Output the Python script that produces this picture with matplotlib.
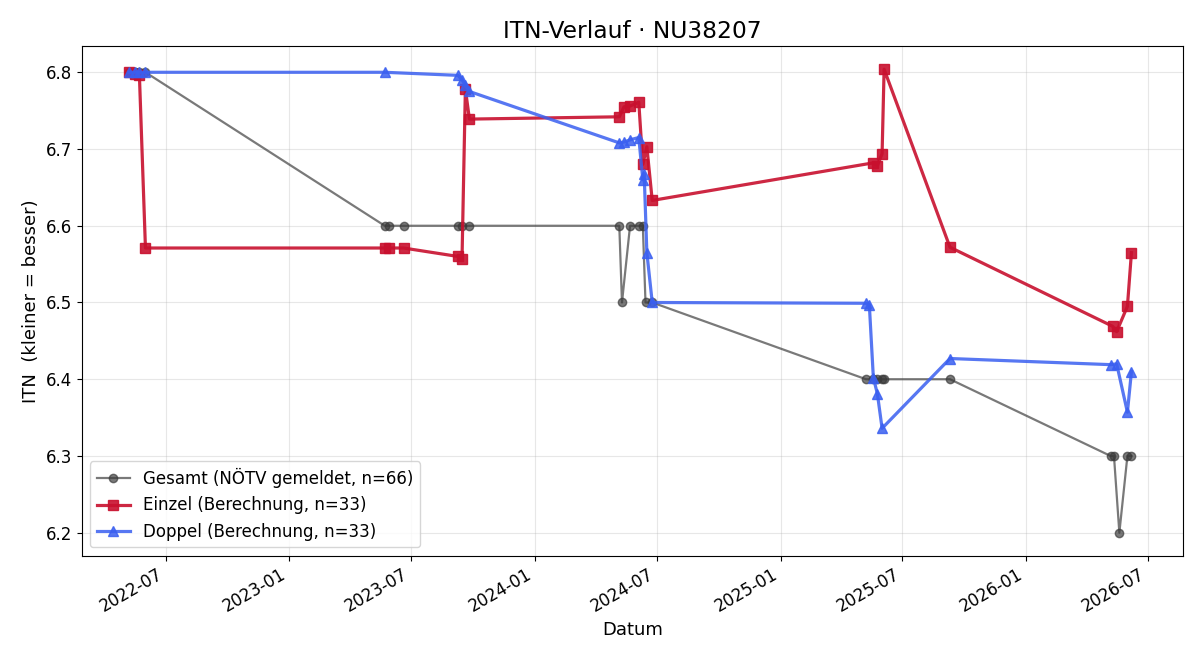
import matplotlib
matplotlib.use("Agg")
import matplotlib.pyplot as plt
import matplotlib.dates as mdates
import pandas as pd

# Gesamt (NÖTV gemeldet)
ges_dates = ["2022-05-08", "2022-05-16", "2022-05-23", "2022-06-01",
             "2023-05-23", "2023-05-30", "2023-06-20", "2023-09-09", "2023-09-15", "2023-09-26",
             "2024-05-06", "2024-05-10", "2024-05-22", "2024-06-04", "2024-06-10", "2024-06-14", "2024-06-24",
             "2025-05-08", "2025-05-19", "2025-05-25", "2025-06-01", "2025-06-04",
             "2025-09-10",
             "2026-05-07", "2026-05-12", "2026-05-20", "2026-06-01", "2026-06-07"]
ges_itn = [6.8, 6.8, 6.8, 6.8,
           6.6, 6.6, 6.6, 6.6, 6.6, 6.6,
           6.6, 6.5, 6.6, 6.6, 6.6, 6.5, 6.5,
           6.4, 6.4, 6.4, 6.4, 6.4,
           6.4,
           6.3, 6.3, 6.2, 6.3, 6.3]

# Einzel (Berechnung)
ein_dates = ["2022-05-08", "2022-05-16", "2022-05-23", "2022-06-01",
             "2023-05-23", "2023-05-30", "2023-06-20", "2023-09-09", "2023-09-15", "2023-09-20", "2023-09-26",
             "2024-05-06", "2024-05-13", "2024-05-22", "2024-06-04", "2024-06-10", "2024-06-16", "2024-06-24",
             "2025-05-19", "2025-05-25", "2025-06-01", "2025-06-04",
             "2025-09-10",
             "2026-05-10", "2026-05-16", "2026-06-01", "2026-06-07"]
ein_itn = [6.800, 6.798, 6.796, 6.571,
           6.571, 6.571, 6.571, 6.560, 6.557, 6.778, 6.739,
           6.742, 6.755, 6.756, 6.761, 6.680, 6.703, 6.633,
           6.682, 6.678, 6.694, 6.804,
           6.572,
           6.469, 6.462, 6.495, 6.565]

# Doppel (Berechnung)
dop_dates = ["2022-05-08", "2022-05-16", "2022-05-23", "2022-06-01",
             "2023-05-23", "2023-09-09", "2023-09-15", "2023-09-20", "2023-09-26",
             "2024-05-06", "2024-05-13", "2024-05-22", "2024-06-04", "2024-06-10", "2024-06-12", "2024-06-16", "2024-06-24",
             "2025-05-08", "2025-05-13", "2025-05-19", "2025-05-25", "2025-06-01",
             "2025-09-10",
             "2026-05-07", "2026-05-16", "2026-06-01", "2026-06-07"]
dop_itn = [6.800, 6.800, 6.800, 6.800,
           6.800, 6.796, 6.790, 6.783, 6.775,
           6.708, 6.709, 6.712, 6.715, 6.660, 6.668, 6.565, 6.500,
           6.499, 6.497, 6.402, 6.381, 6.336,
           6.427,
           6.419, 6.420, 6.357, 6.410]

fig, ax = plt.subplots(figsize=(12, 6.6), dpi=100)

ax.plot(pd.to_datetime(ges_dates), ges_itn, marker='o', markersize=6, linewidth=1.6,
        color='#3a3a3a', alpha=0.68, label='Gesamt (NÖTV gemeldet, n=66)')
ax.plot(pd.to_datetime(ein_dates), ein_itn, marker='s', markersize=7, linewidth=2.3,
        color='#c8102e', alpha=0.9, label='Einzel (Berechnung, n=33)')
ax.plot(pd.to_datetime(dop_dates), dop_itn, marker='^', markersize=7, linewidth=2.3,
        color='#3a5ff0', alpha=0.85, label='Doppel (Berechnung, n=33)')

ax.set_title('ITN-Verlauf · NU38207', fontsize=16.8)
ax.set_xlabel('Datum', fontsize=13)
ax.set_ylabel('ITN  (kleiner = besser)', fontsize=13)
ax.set_xlim(pd.Timestamp("2022-02-26"), pd.Timestamp("2026-08-23"))
ax.set_ylim(6.17, 6.834)
ax.xaxis.set_major_locator(mdates.MonthLocator(bymonth=[1, 7]))
ax.xaxis.set_major_formatter(mdates.DateFormatter('%Y-%m'))
ax.tick_params(labelsize=12)
ax.grid(True, alpha=0.3)
ax.legend(loc='lower left', fontsize=12)
fig.autofmt_xdate()
fig.subplots_adjust(left=0.068, right=0.986, top=0.930, bottom=0.158)
fig.savefig('out.png')
